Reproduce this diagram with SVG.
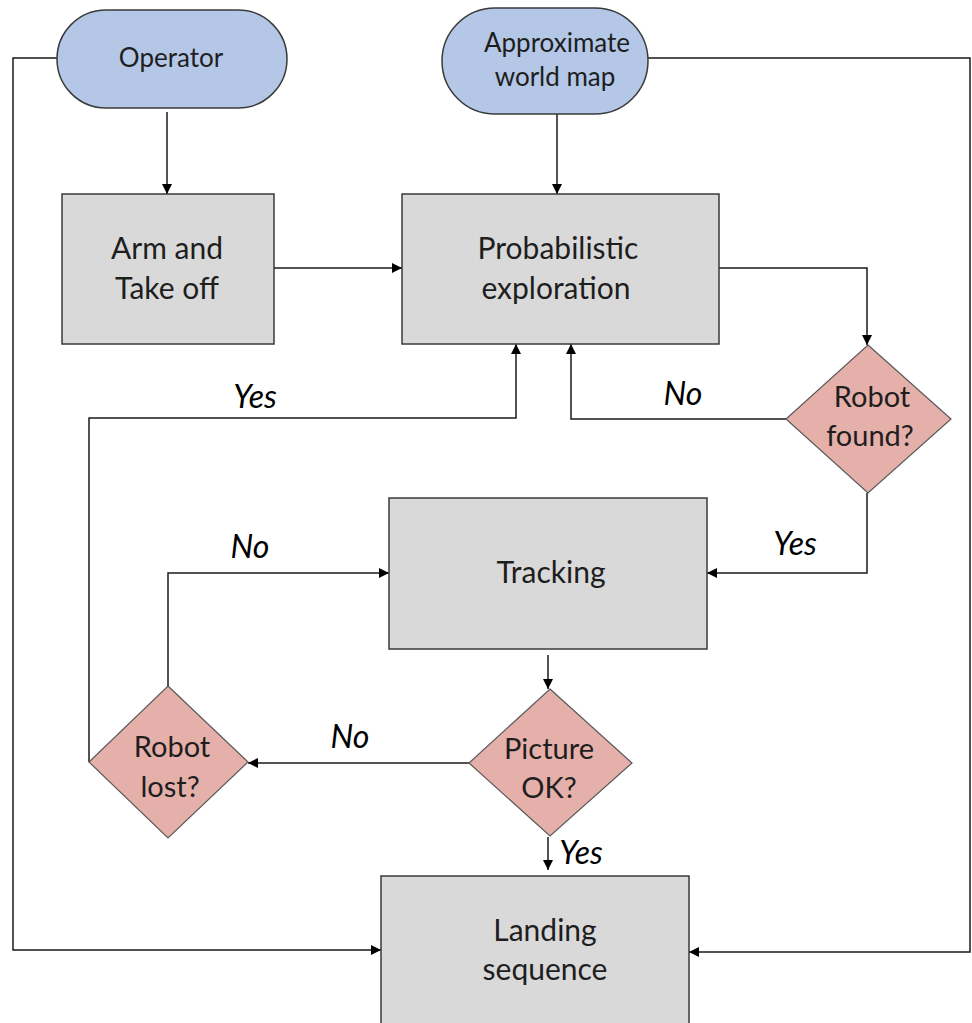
<svg xmlns="http://www.w3.org/2000/svg" width="972" height="1023" viewBox="0 0 972 1023">
  <defs>
    <marker id="arrow" viewBox="0 0 10 10" refX="10" refY="5" markerWidth="10" markerHeight="10" markerUnits="userSpaceOnUse" orient="auto">
      <path d="M0,0 L10,5 L0,10 z" fill="#000"/>
    </marker>
    <style>
      .term { fill: #b4c7e7; stroke: #3a3a3a; stroke-width: 1.5; }
      .proc { fill: #d9d9d9; stroke: #3a3a3a; stroke-width: 1.5; }
      .dec  { fill: #e6b0aa; stroke: #595959; stroke-width: 1.2; }
      .t { font-family: Lato, "Open Sans", "Liberation Sans", sans-serif; fill: #1e1e1e; text-anchor: middle; }
      .tm { font-size: 26px; }
      .tp { font-size: 30px; }
      .td { font-size: 29px; }
      .lbl { font-family: Lato, "Open Sans", "Liberation Sans", sans-serif; font-style: italic; font-size: 32px; fill: #000; text-anchor: middle; }
      .c { fill: none; stroke: #1a1a1a; stroke-width: 1.5; }
      .ca { fill: none; stroke: #1a1a1a; stroke-width: 1.5; marker-end: url(#arrow); }
    </style>
  </defs>
  <rect width="972" height="1023" fill="#fff"/>

  <!-- connectors -->
  <g id="connectors">
    <polyline class="ca" points="57,58 13,58 13,950 381,950"/>
    <line class="ca" x1="167" y1="112" x2="167" y2="194"/>
    <line class="ca" x1="557" y1="114" x2="557" y2="194"/>
    <polyline class="ca" points="648,58 970,58 970,952 689,952"/>
    <line class="ca" x1="274" y1="268" x2="402" y2="268"/>
    <polyline class="ca" points="719,268 867,268 867,345"/>
    <polyline class="ca" points="786,419 571,419 571,344"/>
    <polyline class="ca" points="867,493 867,573 707,573"/>
    <line class="ca" x1="548" y1="655" x2="548" y2="689"/>
    <line class="ca" x1="469" y1="763" x2="248" y2="763"/>
    <line class="ca" x1="548" y1="837" x2="548" y2="870"/>
    <polyline class="ca" points="168,686 168,573 389,573"/>
    <polyline class="ca" points="89,762 89,418 516,418 516,344"/>
    <text class="lbl" x="255" y="408">Yes</text>
    <text class="lbl" x="683" y="405">No</text>
    <text class="lbl" x="795" y="555">Yes</text>
    <text class="lbl" x="250" y="558">No</text>
    <text class="lbl" x="350" y="748">No</text>
    <text class="lbl" x="581" y="864">Yes</text>
  </g>

  <g id="operator">
    <rect class="term" x="57" y="10" width="230" height="98" rx="49" ry="49"/>
    <text class="t tm" x="171" y="67">Operator</text>
  </g>

  <g id="world-map">
    <rect class="term" x="442" y="8" width="206" height="106" rx="53" ry="53"/>
    <text class="t tm" x="557" y="52">Approximate</text>
    <text class="t tm" x="555" y="86">world map</text>
  </g>

  <g id="arm-takeoff">
    <rect class="proc" x="62" y="194" width="212" height="150"/>
    <text class="t tp" x="167" y="259">Arm and</text>
    <text class="t tp" x="167" y="299">Take off</text>
  </g>

  <g id="exploration">
    <rect class="proc" x="402" y="194" width="317" height="150"/>
    <text class="t tp" x="558" y="259">Probabilistic</text>
    <text class="t tp" x="556" y="299">exploration</text>
  </g>

  <g id="robot-found">
    <polygon class="dec" points="868,345 951,419 868,493 786,419"/>
    <text class="t td" x="872" y="407">Robot</text>
    <text class="t td" x="870" y="446">found?</text>
  </g>

  <g id="tracking">
    <rect class="proc" x="389" y="498" width="318" height="151"/>
    <text class="t tp" x="551" y="583">Tracking</text>
  </g>

  <g id="picture-ok">
    <polygon class="dec" points="550,689 632,763 550,836 469,763"/>
    <text class="t td" x="549" y="759">Picture</text>
    <text class="t td" x="549" y="798">OK?</text>
  </g>

  <g id="robot-lost">
    <polygon class="dec" points="168,686 248,762 168,838 89,762"/>
    <text class="t td" x="172" y="757">Robot</text>
    <text class="t td" x="170" y="797">lost?</text>
  </g>

  <g id="landing">
    <rect class="proc" x="381" y="876" width="308" height="160"/>
    <text class="t tp" x="545" y="941">Landing</text>
    <text class="t tp" x="545" y="980">sequence</text>
  </g>
</svg>
